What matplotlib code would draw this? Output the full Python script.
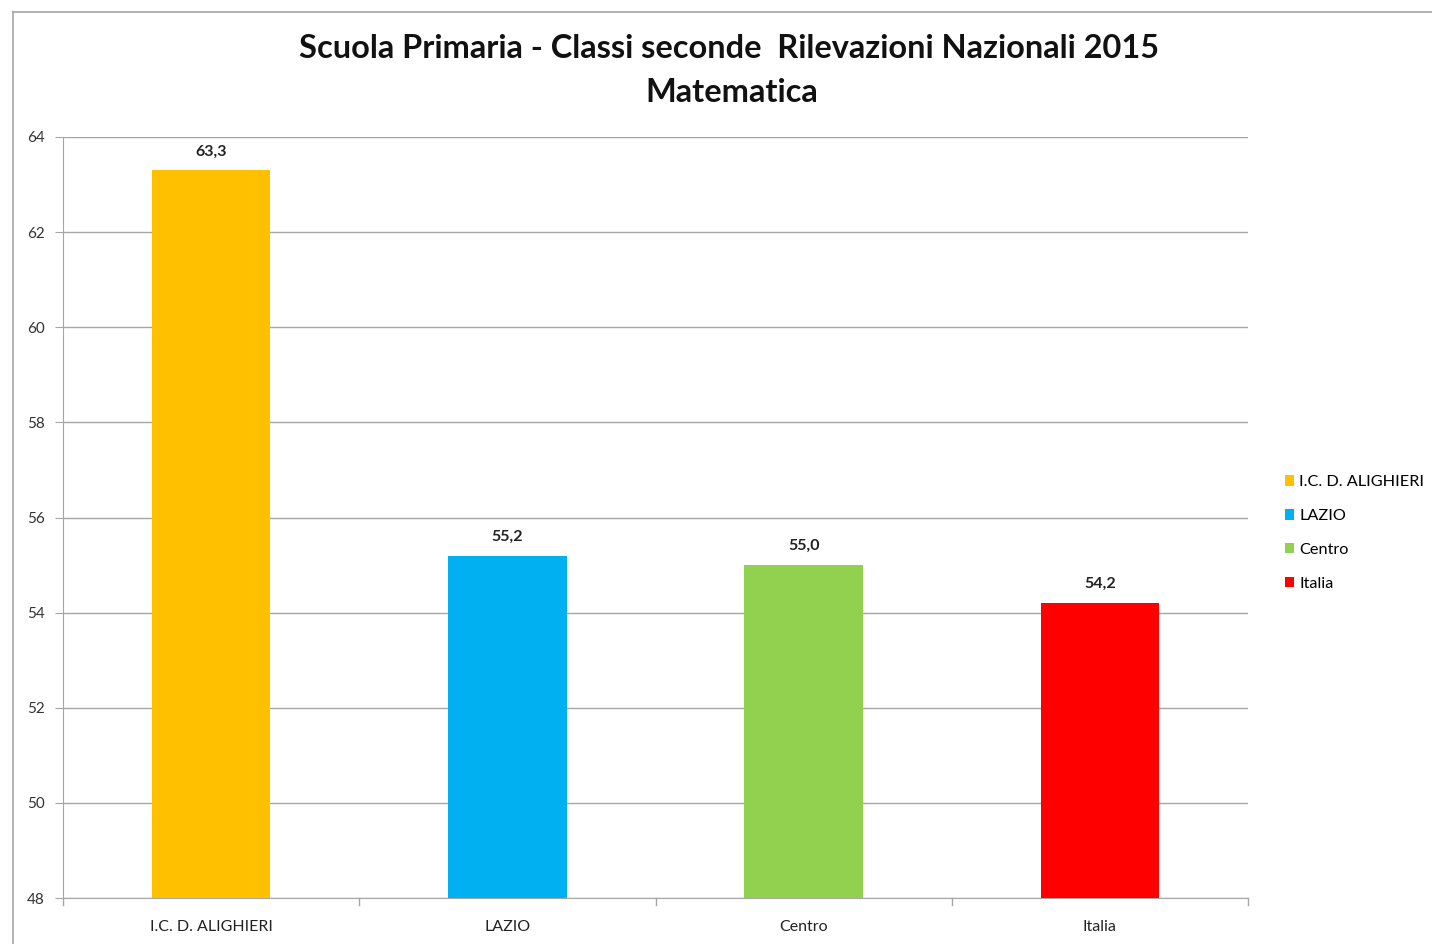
import matplotlib
matplotlib.use("Agg")
import matplotlib.pyplot as plt
from matplotlib.patches import Patch
from matplotlib.lines import Line2D

categories = ["I.C. D. ALIGHIERI", "LAZIO", "Centro", "Italia"]
values = [63.3, 55.2, 55.0, 54.2]
labels = ["63,3", "55,2", "55,0", "54,2"]
colors = ["#FFC000", "#00B0F0", "#92D050", "#FF0000"]
yticks = [48, 50, 52, 54, 56, 58, 60, 62, 64]

plt.rcParams['font.family'] = ['Lato', 'DejaVu Sans']

fig = plt.figure(figsize=(14.32, 9.44), dpi=100)
W, H = 1432, 944
ax = fig.add_axes([63 / W, 1 - 898 / H, (1248 - 63) / W, (898 - 137) / H])

x = list(range(len(categories)))
ax.bar(x, [v - 48 for v in values], bottom=48, width=0.4, color=colors, zorder=3)
for xi, v, lab in zip(x, values, labels):
    ax.text(xi, v + 0.25, lab, ha='center', va='bottom', fontsize=11.5,
            fontweight='bold', color='#222222')

ax.set_xlim(-0.5, len(categories) - 0.5)
ax.set_ylim(48, 64)
ax.set_yticks(yticks)
ax.set_yticklabels([str(t) for t in yticks], fontsize=11, color='#333333')
ax.yaxis.grid(True, color='#A6A6A6', linewidth=1.0, zorder=0)
ax.set_xticks(x)
ax.set_xticklabels(categories, fontsize=11.5, color='#222222')
ax.tick_params(axis='x', length=0, pad=16)
ax.tick_params(axis='y', length=6, color='#A6A6A6', pad=7)
for b in [-0.5, 0.5, 1.5, 2.5, 3.5]:
    ax.plot([b, b], [48, 47.85], color='#A6A6A6', lw=1.0, clip_on=False)
for s in ['top', 'right']:
    ax.spines[s].set_visible(False)
ax.spines['left'].set_color('#A6A6A6')
ax.spines['bottom'].set_color('#A6A6A6')

fig.text(729 / W, 1 - 49 / H, "Scuola Primaria - Classi seconde  Rilevazioni Nazionali 2015",
         ha='center', va='center', fontsize=23.4, fontweight='bold', color='#111111')
fig.text(732 / W, 1 - 93 / H, "Matematica", ha='center', va='center',
         fontsize=23.4, fontweight='bold', color='#111111')

handles = [Patch(facecolor=c, edgecolor='none') for c in colors]
fig.legend(handles, categories, loc='center left', bbox_to_anchor=(1270 / W, 1 - 533 / H),
           frameon=False, fontsize=11.7, handlelength=0.6, handleheight=0.6,
           handletextpad=0.3, labelspacing=1.22)

# outer chart frame
fig.add_artist(Line2D([13 / W, 13 / W], [0, 1 - 12 / H], color='#A6A6A6', lw=1.2))
fig.add_artist(Line2D([13 / W, 1], [1 - 12 / H, 1 - 12 / H], color='#A6A6A6', lw=1.2))

fig.savefig("out.png", dpi=100)
